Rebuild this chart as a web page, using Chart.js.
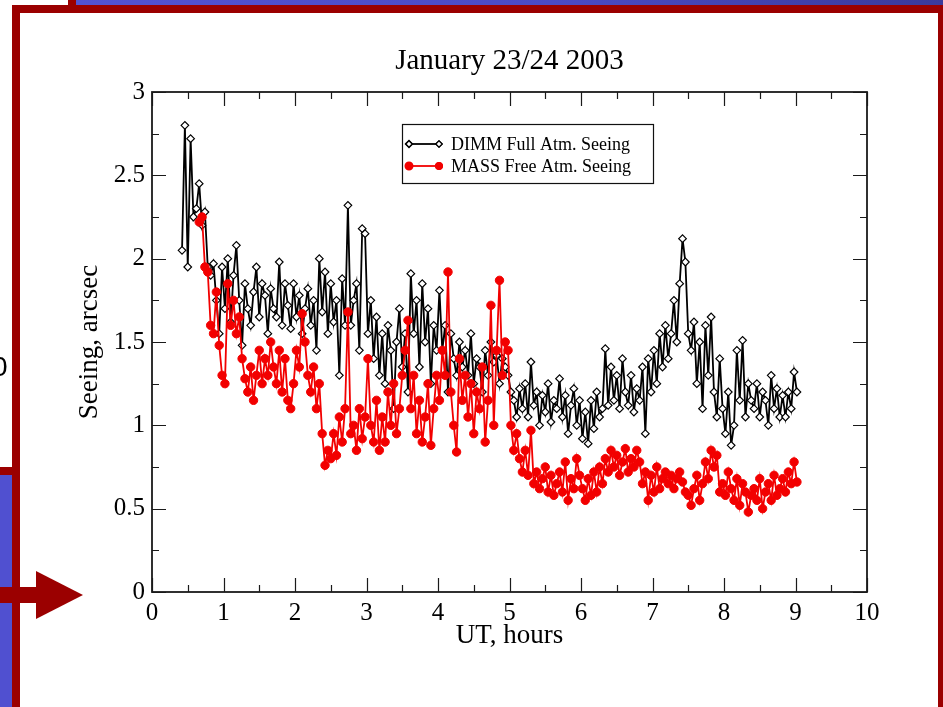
<!DOCTYPE html>
<html>
<head>
<meta charset="utf-8">
<title>January 23/24 2003 seeing</title>
<script src="https://cdn.jsdelivr.net/npm/chart.js@4.4.1/dist/chart.umd.min.js"></script>
<style>
  html, body { margin: 0; padding: 0; width: 943px; height: 707px; overflow: hidden; background: #fff; }
  #slide { position: relative; width: 943px; height: 707px; background: #fff; }
  #c { position: absolute; left: 0; top: 0; }
  .deco { position: absolute; }
  .red { background: #9b0000; }
  #arrowHead { width: 0; height: 0; border-top: 24px solid transparent; border-bottom: 24px solid transparent; border-left: 47px solid #9b0000; }
  #edgeText { font-family: "Liberation Sans", sans-serif; font-size: 28px; line-height: 28px; color: #000; }
</style>
</head>
<body>
<div id="slide">
  <canvas id="c" width="943" height="707"></canvas>
  <!-- slide frame -->
  <div class="deco" style="left:76px;top:0;width:867px;height:5px;background:linear-gradient(90deg,#5353d3 0%,#4b4bc6 55%,#3a3a9c 100%);"></div>
  <div class="deco red" style="left:68px;top:0;width:8px;height:5px;"></div>
  <div class="deco red" style="left:12px;top:5px;width:931px;height:8px;"></div>
  <div class="deco red" style="left:12px;top:5px;width:8px;height:702px;"></div>
  <div class="deco red" style="left:938px;top:5px;width:5px;height:702px;"></div>
  <div class="deco" style="left:0;top:475px;width:12px;height:232px;background:#5050d0;"></div>
  <div class="deco red" style="left:0;top:467px;width:20px;height:8px;"></div>
  <div class="deco red" style="left:0;top:587px;width:37px;height:16px;"></div>
  <div class="deco" id="arrowHead" style="left:36px;top:571px;"></div>
  <div class="deco" id="edgeText" style="left:-8px;top:353px;">0</div>
</div>
<script>
// Sample times (UT hours) shared by both instruments
const utHours = [
  0.42, 0.46, 0.50, 0.54, 0.58, 0.62, 0.66, 0.70, 0.74, 0.78,
  0.82, 0.86, 0.90, 0.94, 0.98, 1.02, 1.06, 1.10, 1.14, 1.18,
  1.22, 1.26, 1.30, 1.34, 1.38, 1.42, 1.46, 1.50, 1.54, 1.58,
  1.62, 1.66, 1.70, 1.74, 1.78, 1.82, 1.86, 1.90, 1.94, 1.98,
  2.02, 2.06, 2.10, 2.14, 2.18, 2.22, 2.26, 2.30, 2.34, 2.38,
  2.42, 2.46, 2.50, 2.54, 2.58, 2.62, 2.66, 2.70, 2.74, 2.78,
  2.82, 2.86, 2.90, 2.94, 2.98, 3.02, 3.06, 3.10, 3.14, 3.18,
  3.22, 3.26, 3.30, 3.34, 3.38, 3.42, 3.46, 3.50, 3.54, 3.58,
  3.62, 3.66, 3.70, 3.74, 3.78, 3.82, 3.86, 3.90, 3.94, 3.98,
  4.02, 4.06, 4.10, 4.14, 4.18, 4.22, 4.26, 4.30, 4.34, 4.38,
  4.42, 4.46, 4.50, 4.54, 4.58, 4.62, 4.66, 4.70, 4.74, 4.78,
  4.82, 4.86, 4.90, 4.94, 4.98, 5.02, 5.06, 5.10, 5.14, 5.18,
  5.22, 5.26, 5.30, 5.34, 5.38, 5.42, 5.46, 5.50, 5.54, 5.58,
  5.62, 5.66, 5.70, 5.74, 5.78, 5.82, 5.86, 5.90, 5.94, 5.98,
  6.02, 6.06, 6.10, 6.14, 6.18, 6.22, 6.26, 6.30, 6.34, 6.38,
  6.42, 6.46, 6.50, 6.54, 6.58, 6.62, 6.66, 6.70, 6.74, 6.78,
  6.82, 6.86, 6.90, 6.94, 6.98, 7.02, 7.06, 7.10, 7.14, 7.18,
  7.22, 7.26, 7.30, 7.34, 7.38, 7.42, 7.46, 7.50, 7.54, 7.58,
  7.62, 7.66, 7.70, 7.74, 7.78, 7.82, 7.86, 7.90, 7.94, 7.98,
  8.02, 8.06, 8.10, 8.14, 8.18, 8.22, 8.26, 8.30, 8.34, 8.38,
  8.42, 8.46, 8.50, 8.54, 8.58, 8.62, 8.66, 8.70, 8.74, 8.78,
  8.82, 8.86, 8.90, 8.94, 8.98, 9.02
];

// DIMM full-atmosphere seeing, arcsec
const dimmSeeing = [
  2.05, 2.80, 1.95, 2.72, 2.25, 2.30, 2.45, 2.20, 2.28, 1.95,
  1.90, 1.97, 1.75, 1.55, 1.95, 1.70, 2.00, 1.62, 1.90, 2.08,
  1.75, 1.48, 1.85, 1.70, 1.60, 1.80, 1.95, 1.65, 1.85, 1.78,
  1.55, 1.82, 1.70, 1.65, 1.98, 1.60, 1.85, 1.72, 1.58, 1.85,
  1.65, 1.78, 1.55, 1.70, 1.82, 1.60, 1.75, 1.45, 2.00, 1.68,
  1.92, 1.55, 1.85, 1.62, 1.75, 1.30, 1.88, 1.60, 2.32, 1.60,
  1.75, 1.85, 1.45, 2.18, 2.15, 1.55, 1.75, 1.40, 1.65, 1.30,
  1.55, 1.25, 1.60, 1.45, 1.10, 1.50, 1.70, 1.35, 1.55, 1.20,
  1.91, 1.55, 1.75, 1.35, 1.85, 1.50, 1.70, 1.25, 1.60, 1.45,
  1.81, 1.45, 1.60, 1.20, 1.55, 1.40, 1.30, 1.50, 1.35, 1.45,
  1.30, 1.55, 1.25, 1.40, 1.35, 1.20, 1.45, 1.30, 1.50, 1.38,
  1.42, 1.25, 1.40, 1.35, 1.30, 1.20, 1.15, 1.05, 1.22, 1.10,
  1.25, 1.05, 1.38, 1.12, 1.20, 1.00, 1.18, 1.08, 1.25, 1.02,
  1.15, 1.10, 1.28, 1.05, 1.18, 0.95, 1.12, 1.22, 1.00, 1.15,
  0.92, 1.08, 0.89, 1.15, 0.98, 1.20, 1.05, 1.10, 1.46, 1.12,
  1.35, 1.15, 1.30, 1.10, 1.40, 1.20, 1.12, 1.30, 1.08, 1.22,
  1.15, 1.35, 0.95, 1.40, 1.20, 1.45, 1.25, 1.55, 1.35, 1.60,
  1.40, 1.55, 1.75, 1.50, 1.85, 2.12, 1.98, 1.55, 1.45, 1.62,
  1.25, 1.50, 1.10, 1.60, 1.30, 1.65, 1.20, 1.05, 1.40, 1.10,
  0.95, 1.20, 0.88, 1.00, 1.45, 1.15, 1.51, 1.05, 1.25, 1.15,
  1.10, 1.25, 1.05, 1.20, 1.15, 1.00, 1.30, 1.10, 1.22, 1.05,
  1.18, 1.05, 1.20, 1.10, 1.32, 1.20
];

// MASS free-atmosphere seeing, arcsec (no data before 0.66 h)
const massSeeing = [
  null, null, null, null, null, null, 2.22, 2.25, 1.95, 1.92,
  1.60, 1.55, 1.80, 1.48, 1.30, 1.25, 1.85, 1.60, 1.75, 1.55,
  1.65, 1.40, 1.28, 1.20, 1.35, 1.15, 1.30, 1.45, 1.25, 1.40,
  1.30, 1.50, 1.35, 1.25, 1.45, 1.20, 1.40, 1.15, 1.10, 1.25,
  1.45, 1.35, 1.67, 1.50, 1.30, 1.20, 1.35, 1.10, 1.25, 0.95,
  0.76, 0.85, 0.80, 0.95, 0.82, 1.05, 0.90, 1.10, 1.68, 0.95,
  1.00, 0.85, 1.10, 0.92, 1.05, 1.40, 1.00, 0.90, 1.15, 0.85,
  1.05, 0.90, 1.20, 1.00, 1.25, 0.95, 1.10, 1.30, 1.45, 1.63,
  1.10, 1.30, 0.95, 1.15, 0.90, 1.05, 1.25, 0.88, 1.10, 1.30,
  1.15, 1.45, 1.30, 1.92, 1.20, 1.00, 0.84, 1.40, 1.15, 1.30,
  1.05, 1.25, 0.95, 1.20, 1.10, 1.35, 0.90, 1.15, 1.72, 1.00,
  1.45, 1.87, 1.30, 1.50, 1.45, 1.00, 0.85, 0.95, 0.80, 0.72,
  0.85, 0.70, 0.97, 0.65, 0.72, 0.62, 0.68, 0.75, 0.60, 0.70,
  0.58, 0.65, 0.72, 0.60, 0.78, 0.55, 0.68, 0.62, 0.80, 0.70,
  0.62, 0.55, 0.68, 0.58, 0.72, 0.60, 0.75, 0.65, 0.80, 0.72,
  0.85, 0.75, 0.82, 0.70, 0.78, 0.86, 0.72, 0.80, 0.75, 0.85,
  0.78, 0.65, 0.72, 0.55, 0.70, 0.60, 0.75, 0.62, 0.68, 0.72,
  0.65, 0.70, 0.62, 0.68, 0.72, 0.66, 0.60, 0.58, 0.52, 0.62,
  0.70, 0.55, 0.65, 0.78, 0.68, 0.85, 0.75, 0.82, 0.60, 0.65,
  0.58, 0.72, 0.62, 0.55, 0.68, 0.52, 0.65, 0.60, 0.48, 0.58,
  0.62, 0.55, 0.68, 0.50, 0.60, 0.65, 0.55, 0.70, 0.58, 0.62,
  0.68, 0.60, 0.72, 0.65, 0.78, 0.66
];

const seriesLabels = ['DIMM Full Atm. Seeing', 'MASS Free Atm. Seeing'];
const chartTitle = 'January 23/24 2003';
const xAxisTitle = 'UT, hours';
const yAxisTitle = 'Seeing, arcsec';

const SERIF = '"Liberation Serif", "Times New Roman", serif';

function toPoints(values) {
  const pts = [];
  values.forEach((v, i) => { if (v !== null) pts.push({ x: utHours[i], y: v }); });
  return pts;
}

// Title centred over the plotting area
const plotTitle = {
  id: 'plotTitle',
  afterDraw(chart) {
    const { ctx, chartArea: a } = chart;
    ctx.save();
    ctx.fillStyle = '#000';
    ctx.font = '29px ' + SERIF;
    ctx.textAlign = 'center';
    ctx.textBaseline = 'middle';
    ctx.fillText(chartTitle, (a.left + a.right) / 2, 61);
    ctx.restore();
  }
};

// Boxed frame with inward major/minor ticks on all four sides
const frameTicks = {
  id: 'frameTicks',
  afterDatasetsDraw(chart) {
    const { ctx, chartArea: a, scales: { x, y } } = chart;
    ctx.save();
    ctx.strokeStyle = '#1a1a1a';
    ctx.lineWidth = 1.2;
    ctx.beginPath();
    for (let v = 0; v <= 10.001; v += 0.5) {
      const px = Math.round(x.getPixelForValue(v)) + 0.5;
      const len = Math.abs(v - Math.round(v)) < 1e-6 ? 14 : 7;
      ctx.moveTo(px, a.bottom); ctx.lineTo(px, a.bottom - len);
      ctx.moveTo(px, a.top); ctx.lineTo(px, a.top + len);
    }
    for (let v = 0; v <= 3.001; v += 0.25) {
      const py = Math.round(y.getPixelForValue(v)) + 0.5;
      const len = Math.abs(v * 2 - Math.round(v * 2)) < 1e-6 ? 14 : 7;
      ctx.moveTo(a.left, py); ctx.lineTo(a.left + len, py);
      ctx.moveTo(a.right, py); ctx.lineTo(a.right - len, py);
    }
    ctx.stroke();
    ctx.lineWidth = 1.8;
    ctx.strokeRect(a.left, a.top, a.right - a.left, a.bottom - a.top);
    ctx.restore();
  }
};

// Boxed legend placed inside the plot
const boxLegend = {
  id: 'boxLegend',
  afterDraw(chart) {
    const { ctx } = chart;
    const bx = 402, by = 124, bw = 251, bh = 59;
    ctx.save();
    ctx.fillStyle = '#fff';
    ctx.fillRect(bx, by, bw, bh);
    ctx.strokeStyle = '#111';
    ctx.lineWidth = 1.2;
    ctx.strokeRect(bx + 0.5, by + 0.5, bw, bh);
    const rows = [
      { ds: chart.data.datasets[1], y: 144 },
      { ds: chart.data.datasets[0], y: 166 }
    ];
    rows.forEach(({ ds, y }) => {
      ctx.strokeStyle = ds.borderColor;
      ctx.lineWidth = ds.borderWidth;
      ctx.beginPath(); ctx.moveTo(409, y); ctx.lineTo(439, y); ctx.stroke();
      [409, 439].forEach(px => {
        Chart.helpers.drawPoint(ctx, {
          pointStyle: ds.pointStyle, radius: ds.pointRadius - 0.6, borderWidth: ds.pointBorderWidth, rotation: 0
        }, px, y);
        ctx.fillStyle = ds.pointBackgroundColor;
        ctx.strokeStyle = ds.borderColor;
        ctx.lineWidth = ds.pointBorderWidth;
        ctx.fill();
        ctx.stroke();
      });
      ctx.fillStyle = '#000';
      ctx.font = '18px ' + SERIF;
      ctx.textBaseline = 'middle';
      ctx.textAlign = 'left';
      ctx.fillText(ds.label, 451, y + 1);
    });
    ctx.restore();
  }
};

new Chart(document.getElementById('c'), {
  type: 'line',
  data: {
    datasets: [
      {
        label: seriesLabels[1],
        data: toPoints(massSeeing),
        borderColor: '#f20000',
        pointBackgroundColor: '#f20000',
        backgroundColor: '#f20000',
        pointStyle: 'circle',
        pointRadius: 4.2,
        pointBorderWidth: 1,
        borderWidth: 1.8,
        tension: 0,
        order: 1
      },
      {
        label: seriesLabels[0],
        data: toPoints(dimmSeeing),
        borderColor: '#000000',
        pointBackgroundColor: '#ffffff',
        backgroundColor: '#ffffff',
        pointStyle: 'rectRot',
        pointRadius: 3.8,
        pointBorderWidth: 1.2,
        borderWidth: 1.8,
        tension: 0,
        order: 2
      }
    ]
  },
  options: {
    responsive: false,
    animation: false,
    devicePixelRatio: 1,
    layout: { padding: { top: 92, left: 0, right: 76, bottom: 0 } },
    plugins: {
      legend: { display: false },
      tooltip: { enabled: false },
      title: { display: false }
    },
    scales: {
      x: {
        type: 'linear',
        min: 0, max: 10,
        grid: { display: false, drawTicks: false },
        border: { display: false },
        ticks: { stepSize: 1, color: '#000', padding: 6, maxRotation: 0, font: { family: SERIF, size: 25 } },
        title: { display: true, text: xAxisTitle, color: '#000', font: { family: SERIF, size: 27, lineHeight: 1.2 }, padding: { top: 0, bottom: 54.8 } },
        afterFit(s) { s.height = 115; }
      },
      y: {
        type: 'linear',
        min: 0, max: 3,
        grid: { display: false, drawTicks: false },
        border: { display: false },
        ticks: {
          stepSize: 0.5, color: '#000', padding: 7, font: { family: SERIF, size: 25 },
          callback: (v) => String(Math.round(v * 100) / 100)
        },
        title: { display: true, text: yAxisTitle, color: '#000', font: { family: SERIF, size: 27, lineHeight: 1.2 }, padding: { top: 73.8, bottom: 0 } },
        afterFit(s) { s.width = 152; }
      }
    }
  },
  plugins: [frameTicks, boxLegend, plotTitle]
});
</script>
</body>
</html>
